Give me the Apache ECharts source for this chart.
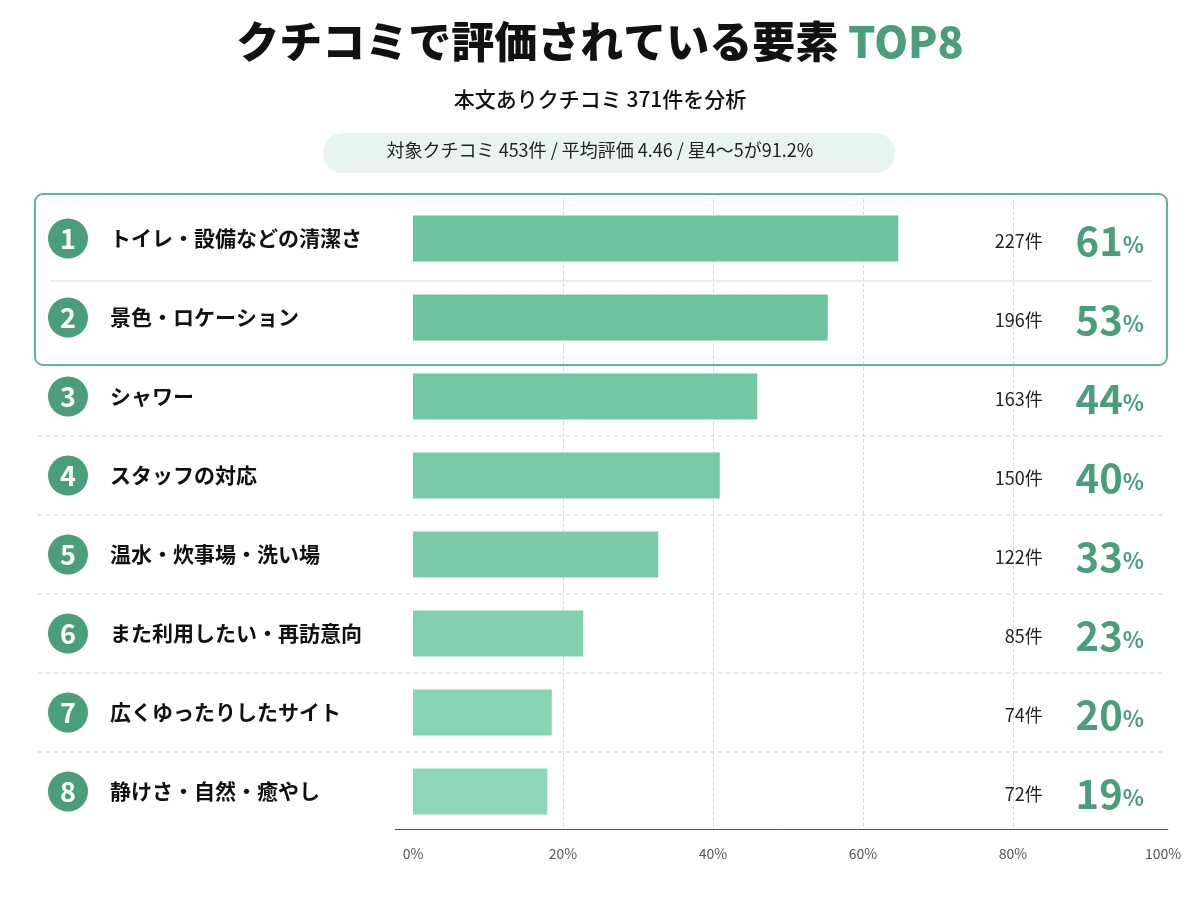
<!DOCTYPE html>
<html>
<head>
<meta charset="utf-8">
<script src="https://cdn.jsdelivr.net/npm/echarts@6/dist/echarts.min.js"></script>
<style>html,body{margin:0;background:#fff}</style>
</head>
<body>
<div id="main" style="width:1200px;height:900px;"></div>
<script>
var FONT = '"Noto Sans CJK JP", "Noto Sans", sans-serif';
// categories, top to bottom
var categories = ['トイレ・設備などの清潔さ', '景色・ロケーション', 'シャワー', 'スタッフの対応',
  '温水・炊事場・洗い場', 'また利用したい・再訪意向', '広くゆったりしたサイト', '静けさ・自然・癒やし'];
// bar lengths as drawn (% of axis)
var barValues = [64.7, 55.3, 45.9, 40.9, 32.7, 22.7, 18.5, 17.9];
// printed labels
var counts = [227, 196, 163, 150, 122, 85, 74, 72];
var percents = [61, 53, 44, 40, 33, 23, 20, 19];
var barColors = ['#6cc49f', '#6cc49f', '#72c8a3', '#76caa6', '#7bcdaa', '#80d0ae', '#88d5b4', '#8cd7b7'];
var xTicks = [0, 20, 40, 60, 80, 100];

var myChart = echarts.init(document.getElementById('main'));

var gridTop = 199, rowH = 79;
var graphics = [
  { type: 'text', left: 'center', top: 20, style: { rich: {
      a: { fontSize: 43, fontWeight: 900, fill: '#111', fontFamily: FONT },
      b: { fontSize: 43, fontWeight: 900, fill: '#4a9e7c', fontFamily: FONT }
    }, text: '{a|クチコミで評価されている要素 }{b|TOP8}' } },
  { type: 'text', left: 'center', top: 89, style: { text: '本文ありクチコミ 371件を分析', fontSize: 21, fontWeight: 500, fill: '#111', fontFamily: FONT } },
  { type: 'rect', shape: { x: 323, y: 133, width: 572, height: 40, r: 20 }, style: { fill: '#e8f5ef' } },
  { type: 'text', left: 'center', top: 141, style: { text: '対象クチコミ 453件 / 平均評価 4.46 / 星4〜5が91.2%', fontSize: 18, fill: '#222', fontFamily: FONT } },
  { type: 'rect', z: 5, shape: { x: 35, y: 194, width: 1132, height: 171, r: 8 }, style: { fill: 'none', stroke: '#5fb78e', lineWidth: 2 } },
  { type: 'line', shape: { x1: 50, y1: 281, x2: 1152, y2: 281 }, style: { stroke: '#bfe3d2', lineWidth: 1 } }
];
for (var k = 3; k < categories.length; k++) {
  var yy = gridTop + rowH * k;
  graphics.push({ type: 'line', shape: { x1: 38, y1: yy, x2: 1165, y2: yy }, style: { stroke: '#d0d0d0', lineWidth: 1, lineDash: [4, 4] } });
}

var labelIdx = {};
categories.forEach(function (c, i) { labelIdx[c] = i; });

myChart.setOption({
  backgroundColor: '#fff',
  animation: false,
  textStyle: { fontFamily: FONT },
  graphic: graphics,
  grid: { left: 413, right: 37, top: gridTop, height: rowH * categories.length },
  xAxis: {
    type: 'value', min: 0, max: 100, interval: 20,
    axisLine: { show: false }, axisTick: { show: false },
    splitLine: { show: true, showMinLine: false, showMaxLine: false, lineStyle: { color: '#dcdcdc', type: 'dashed' } },
    axisLabel: { formatter: '{value}%', color: '#555', fontSize: 14, margin: 16 }
  },
  yAxis: {
    type: 'category', data: categories, inverse: true,
    axisTick: { show: false },
    axisLine: { show: false },
    axisLabel: {
      align: 'left', margin: 365,
      formatter: function (v) { return '{n|' + (labelIdx[v] + 1) + '}{t|' + v + '}'; },
      rich: {
        n: { width: 40, height: 40, borderRadius: 20, backgroundColor: '#4a9e7c', color: '#fff',
             fontSize: 27, fontWeight: 'bold', align: 'center', lineHeight: 40 },
        t: { fontSize: 21, fontWeight: 'bold', color: '#111', padding: [0, 0, 0, 22] }
      }
    }
  },
  series: [{
    type: 'bar', barWidth: 46,
    data: barValues.map(function (v, i) { return { value: v, itemStyle: { color: barColors[i] } }; }),
    z: 3
  }, {
    type: 'bar', barWidth: 46, barGap: '-100%', silent: true,
    itemStyle: { color: 'rgba(0,0,0,0)' },
    data: categories.map(function () { return 100; }),
    label: {
      show: true, position: 'insideRight', offset: [-14, 2],
      formatter: function (p) {
        return '{c|' + counts[p.dataIndex] + '件}{p|' + percents[p.dataIndex] + '}{s|%}';
      },
      rich: {
        c: { fontSize: 18, color: '#222', width: 80, align: 'right', padding: [2, 0, 0, 0] },
        p: { fontSize: 40, fontWeight: 'bold', color: '#4a9e7c', width: 80, align: 'right' },
        s: { fontSize: 22, fontWeight: 'bold', color: '#4a9e7c', padding: [8, 0, 0, 0] }
      }
    }
  }, {
    type: 'line', silent: true, symbol: 'none', data: [],
    markLine: { silent: true, symbol: 'none', label: { show: false },
      lineStyle: { color: '#555', type: 'solid', width: 1 },
      data: [[{ coord: [-2.4, categories[7]], y: 829 }, { coord: [100.7, categories[7]], y: 829 }]] }
  }]
});
</script>
</body>
</html>
